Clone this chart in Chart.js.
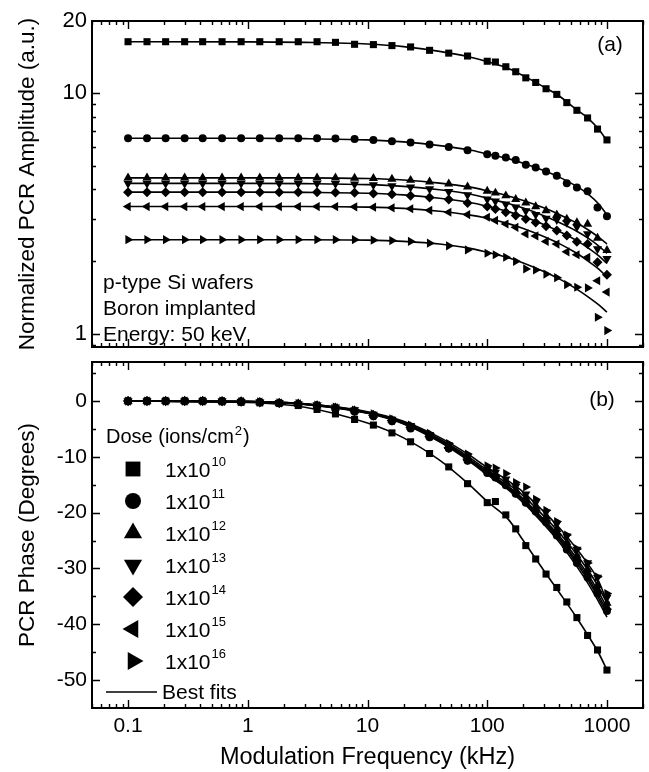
<!DOCTYPE html>
<html>
<head>
<meta charset="utf-8">
<title>PCR amplitude and phase vs modulation frequency</title>
<script src="https://cdn.jsdelivr.net/npm/chart.js@4.4.0/dist/chart.umd.min.js"></script>
<style>
  body { margin: 0; background: #fff; }
  #wrap { position: relative; width: 649px; height: 772px; }
  #wrap canvas { position: absolute; left: 0; top: 0; }
</style>
</head>
<body>
<div id="wrap">
  <canvas id="ampChart" width="649" height="772"></canvas>
  <canvas id="phaseChart" width="649" height="772"></canvas>
</div>
<script>
// measured modulation frequencies (kHz)
const freqKHz = [0.1, 0.144, 0.206, 0.297, 0.42, 0.61, 0.88, 1.26, 1.83, 2.64, 3.79, 5.4, 7.8, 11.2, 16, 22.9, 33, 47.7, 68.5,
  100, 117, 143, 173, 210, 254, 310, 381, 462, 561, 689, 834, 1000];
// frequencies where the best-fit curves are tabulated (kHz)
const fitFreqKHz = [0.1, 1, 3, 10, 20, 40, 70, 100, 150, 200, 300, 400, 550, 700, 850, 1000];

// implant dose exponents, 1x10^n ions/cm2
const doseExp = ['10', '11', '12', '13', '14', '15', '16'];

// tick labels
const freqTicks = [0.1, 1, 10, 100, 1000];
const ampTicks = [1, 10, 20];
const phaseTicks = [0, -10, -20, -30, -40, -50];

// normalized PCR amplitude (a.u.)
const amp1e10 = [16.4, 16.4, 16.4, 16.4, 16.4, 16.4, 16.4, 16.4, 16.4, 16.4, 16.4, 16.3, 16.0, 15.95, 15.8, 15.6, 15.1, 14.7, 14.3,
  13.6, 13.5, 12.9, 12.3, 11.6, 11.1, 10.45, 9.9, 9.15, 8.5, 7.9, 7.1, 6.4];
const amp1e11 = [6.5, 6.5, 6.5, 6.5, 6.5, 6.5, 6.5, 6.5, 6.5, 6.5, 6.5, 6.48, 6.45, 6.4, 6.32, 6.24, 6.12, 5.98, 5.8,
  5.58, 5.5, 5.41, 5.28, 5.04, 4.91, 4.73, 4.54, 4.23, 4.06, 3.91, 3.35, 3.08];
const amp1e12 = [4.45, 4.45, 4.45, 4.45, 4.45, 4.45, 4.45, 4.45, 4.45, 4.45, 4.45, 4.45, 4.44, 4.43, 4.4, 4.35, 4.28, 4.2, 4.08,
  3.92, 3.85, 3.75, 3.62, 3.5, 3.38, 3.25, 3.12, 3.0, 2.9, 2.86, 2.5, 2.22];
const amp1e13 = [4.22, 4.22, 4.22, 4.22, 4.22, 4.22, 4.22, 4.22, 4.22, 4.22, 4.22, 4.21, 4.19, 4.16, 4.12, 4.07, 4.0, 3.9, 3.78,
  3.63, 3.56, 3.46, 3.36, 3.24, 3.13, 3.02, 2.98, 2.9, 2.78, 2.6, 2.25, 2.05];
const amp1e14 = [3.88, 3.88, 3.88, 3.88, 3.88, 3.88, 3.88, 3.88, 3.88, 3.88, 3.88, 3.87, 3.86, 3.83, 3.8, 3.75, 3.69, 3.62, 3.5,
  3.38, 3.3, 3.2, 3.1, 3.0, 2.9, 2.8, 2.69, 2.56, 2.41, 2.36, 1.98, 1.76];
const amp1e15 = [3.38, 3.38, 3.38, 3.38, 3.38, 3.38, 3.38, 3.38, 3.38, 3.38, 3.38, 3.38, 3.37, 3.36, 3.34, 3.31, 3.26, 3.2, 3.13,
  3.05, 2.96, 2.86, 2.77, 2.6, 2.55, 2.42, 2.36, 2.19, 2.13, 2.08, 1.66, 1.49];
const amp1e16 = [2.46, 2.46, 2.46, 2.46, 2.46, 2.46, 2.46, 2.46, 2.46, 2.46, 2.46, 2.46, 2.46, 2.45, 2.44, 2.42, 2.38, 2.32, 2.23,
  2.16, 2.13, 2.08, 2.0, 1.86, 1.84, 1.77, 1.71, 1.6, 1.56, 1.55, 1.17, 1.03];

// amplitude best fits, at fitFreqKHz
const ampFit1e10 = [16.4, 16.38, 16.3, 16.05, 15.65, 14.95, 14.2, 13.55, 12.7, 11.85, 10.6, 9.75, 8.6, 7.85, 7.1, 6.35];
const ampFit1e11 = [6.5, 6.5, 6.48, 6.4, 6.28, 6.06, 5.82, 5.6, 5.35, 5.12, 4.76, 4.48, 4.12, 3.8, 3.47, 3.12];
const ampFit1e12 = [4.45, 4.45, 4.45, 4.42, 4.36, 4.23, 4.08, 3.93, 3.74, 3.58, 3.33, 3.13, 2.9, 2.7, 2.52, 2.36];
const ampFit1e13 = [4.22, 4.22, 4.21, 4.17, 4.1, 3.97, 3.82, 3.66, 3.48, 3.33, 3.09, 2.9, 2.68, 2.49, 2.32, 2.16];
const ampFit1e14 = [3.88, 3.88, 3.87, 3.84, 3.78, 3.66, 3.52, 3.39, 3.22, 3.07, 2.84, 2.66, 2.45, 2.27, 2.11, 1.96];
const ampFit1e15 = [3.38, 3.38, 3.38, 3.36, 3.32, 3.23, 3.12, 3.02, 2.87, 2.74, 2.53, 2.37, 2.17, 2.0, 1.86, 1.72];
const ampFit1e16 = [2.46, 2.46, 2.46, 2.45, 2.42, 2.36, 2.27, 2.18, 2.07, 1.97, 1.81, 1.69, 1.54, 1.42, 1.32, 1.23];

// PCR phase (degrees)
const ph1e10 = [0, 0, 0, 0, 0, -0.1, -0.2, -0.3, -0.4, -0.8, -1.5, -2.3, -3.3, -4.3, -5.7, -7.3, -9.4, -11.8, -14.8,
  -18.2, -18.0, -20.4, -22.9, -25.9, -28.3, -31.0, -33.4, -36.0, -38.8, -42.0, -44.6, -48.2];
const ph1e11 = [0, 0, 0, 0, 0, 0, -0.1, -0.2, -0.4, -0.6, -0.9, -1.3, -1.9, -2.7, -3.6, -4.9, -6.5, -8.5, -10.7,
  -12.9, -13.7, -15.1, -16.6, -18.2, -19.8, -21.7, -24.1, -26.6, -29.0, -31.6, -34.5, -37.6];
const ph1e12 = [0, 0, 0, 0, 0, -0.05, -0.1, -0.2, -0.35, -0.5, -0.8, -1.2, -1.7, -2.5, -3.4, -4.6, -6.2, -8.1, -10.2,
  -12.4, -13.1, -14.5, -15.9, -17.4, -18.9, -20.7, -23.0, -25.3, -27.7, -30.2, -33.0, -36.2];
const ph1e13 = [0, 0, 0, 0, 0, 0, -0.1, -0.2, -0.3, -0.5, -0.7, -1.1, -1.6, -2.4, -3.3, -4.4, -6.0, -7.9, -10.0,
  -12.2, -12.8, -14.0, -15.3, -16.7, -18.2, -19.9, -22.0, -24.2, -26.6, -29.0, -31.6, -35.2];
const ph1e14 = [0, 0, 0, 0, 0, -0.05, -0.1, -0.2, -0.35, -0.5, -0.8, -1.2, -1.8, -2.6, -3.5, -4.7, -6.3, -8.4, -10.5,
  -12.7, -13.5, -14.9, -16.4, -18.0, -19.6, -21.5, -23.8, -26.2, -28.6, -31.3, -34.2, -37.3];
const ph1e15 = [0, 0, 0, 0, 0, -0.05, -0.1, -0.2, -0.35, -0.5, -0.8, -1.2, -1.8, -2.6, -3.5, -4.7, -6.3, -8.3, -10.4,
  -12.6, -13.3, -14.7, -16.2, -17.7, -19.3, -21.1, -23.5, -25.8, -28.2, -30.8, -33.6, -36.7];
const ph1e16 = [0, 0, 0, 0, 0, 0, -0.1, -0.15, -0.3, -0.45, -0.7, -1.1, -1.6, -2.3, -3.2, -4.3, -5.8, -7.6, -9.5,
  -11.6, -12.0, -13.0, -14.6, -15.4, -17.6, -19.6, -21.6, -24.0, -26.5, -29.0, -31.5, -34.5];

// phase best fits, at fitFreqKHz
const phFit1e10 = [0, -0.25, -1.1, -3.95, -6.6, -10.6, -14.9, -18.0, -21.2, -25.0, -30.5, -34.3, -38.6, -42.1, -45.1, -48.2];
const phFit1e11 = [0, -0.1, -0.6, -2.2, -4.1, -7.3, -10.7, -13.2, -15.9, -18.2, -22.2, -25.3, -29.4, -32.8, -35.9, -38.7];
const phFit1e12 = [0, -0.1, -0.55, -2.1, -3.9, -7.0, -10.3, -12.7, -15.3, -17.5, -21.3, -24.2, -28.0, -31.2, -34.2, -37.0];
const phFit1e13 = [0, -0.1, -0.5, -2.0, -3.8, -6.8, -10.0, -12.4, -14.9, -17.0, -20.7, -23.6, -27.3, -30.4, -33.3, -36.2];
const phFit1e14 = [0, -0.1, -0.6, -2.15, -4.0, -7.2, -10.5, -13.0, -15.7, -17.9, -21.9, -24.9, -28.9, -32.2, -35.3, -38.2];
const phFit1e15 = [0, -0.1, -0.55, -2.1, -3.95, -7.1, -10.4, -12.85, -15.5, -17.7, -21.6, -24.6, -28.5, -31.7, -34.8, -37.6];
const phFit1e16 = [0, -0.1, -0.5, -1.9, -3.6, -6.5, -9.6, -11.9, -14.3, -16.3, -19.9, -22.7, -26.3, -29.3, -32.2, -36.0];

const ampSeries = [amp1e10, amp1e11, amp1e12, amp1e13, amp1e14, amp1e15, amp1e16];
const ampFits = [ampFit1e10, ampFit1e11, ampFit1e12, ampFit1e13, ampFit1e14, ampFit1e15, ampFit1e16];
const phSeries = [ph1e10, ph1e11, ph1e12, ph1e13, ph1e14, ph1e15, ph1e16];
const phFits = [phFit1e10, phFit1e11, phFit1e12, phFit1e13, phFit1e14, phFit1e15, phFit1e16];

// one symbol per dose: square, circle, up/down/left/right triangles, diamond
const markers = [
  { pointStyle: 'rect', rotation: 0, r: 5, legendR: 10.5 },
  { pointStyle: 'circle', rotation: 0, r: 4, legendR: 8 },
  { pointStyle: 'triangle', rotation: 0, r: 5.3, legendR: 10.5 },
  { pointStyle: 'triangle', rotation: 180, r: 5.3, legendR: 10.5 },
  { pointStyle: 'rectRot', rotation: 0, r: 5, legendR: 10 },
  { pointStyle: 'triangle', rotation: 270, r: 5.3, legendR: 10.5 },
  { pointStyle: 'triangle', rotation: 90, r: 5.3, legendR: 10.5 }
];

const FAMILY = '"Liberation Sans", Arial, Helvetica, sans-serif';
const font = size => size + 'px ' + FAMILY;
Chart.defaults.font.family = FAMILY;
Chart.defaults.color = '#000';

function pts(xs, ys) {
  return xs.map((x, i) => ({ x: x, y: ys[i] }));
}

function buildDatasets(series, fits) {
  const out = [];
  series.forEach((d, i) => out.push({
    data: pts(freqKHz, d),
    showLine: false,
    pointStyle: markers[i].pointStyle,
    pointRotation: markers[i].rotation,
    pointRadius: markers[i].r,
    pointBackgroundColor: '#000',
    pointBorderWidth: 0
  }));
  fits.forEach(f => out.push({
    data: pts(fitFreqKHz, f),
    showLine: true,
    borderColor: '#000',
    borderWidth: 1.6,
    pointRadius: 0,
    cubicInterpolationMode: 'monotone'
  }));
  return out;
}

function decadeMinors(lo, hi, majors) {
  const v = [];
  for (let e = -3; e <= 4; e++) {
    for (let m = 2; m <= 9; m++) {
      const t = m * Math.pow(10, e);
      if (t >= lo && t <= hi && majors.indexOf(t) < 0) v.push(t);
    }
  }
  return v;
}

const xMinor = decadeMinors(0.05, 2000, freqTicks);
const ampMinor = decadeMinors(0.88, 20, ampTicks).concat([0.9]);
const phaseMinor = [5, -5, -15, -25, -35, -45];

// box frame with inward ticks on all four sides
function frameWithTicks(xMaj, xMin, yMaj, yMin) {
  return {
    id: 'frameWithTicks',
    afterDraw(chart) {
      const { ctx, chartArea: a } = chart;
      const xs = chart.scales.x, ys = chart.scales.y;
      ctx.save();
      ctx.strokeStyle = '#000';
      ctx.lineWidth = 1.4;
      ctx.beginPath();
      const xt = (v, len) => {
        const p = Math.round(xs.getPixelForValue(v)) + 0.5;
        ctx.moveTo(p, a.bottom); ctx.lineTo(p, a.bottom - len);
        ctx.moveTo(p, a.top); ctx.lineTo(p, a.top + len);
      };
      const yt = (v, len) => {
        const p = Math.round(ys.getPixelForValue(v)) + 0.5;
        ctx.moveTo(a.left, p); ctx.lineTo(a.left + len, p);
        ctx.moveTo(a.right, p); ctx.lineTo(a.right - len, p);
      };
      xMaj.forEach(v => xt(v, 8));
      xMin.forEach(v => xt(v, 4));
      yMaj.forEach(v => yt(v, 8));
      yMin.forEach(v => yt(v, 4));
      ctx.stroke();
      ctx.lineWidth = 2;
      ctx.strokeRect(a.left, a.top, a.right - a.left, a.bottom - a.top);
      ctx.restore();
    }
  };
}

const sampleNotes = {
  id: 'sampleNotes',
  afterDraw(chart) {
    const ctx = chart.ctx;
    ctx.save();
    ctx.fillStyle = '#000';
    ctx.font = font(21);
    ctx.textAlign = 'left';
    ctx.textBaseline = 'alphabetic';
    ctx.fillText('p-type Si wafers', 103, 289);
    ctx.fillText('Boron implanted', 103, 315);
    ctx.fillText('Energy: 50 keV', 103, 341);
    ctx.textAlign = 'center';
    ctx.textBaseline = 'middle';
    ctx.fillText('(a)', 610, 45);
    ctx.restore();
  }
};

const doseLegend = {
  id: 'doseLegend',
  afterDraw(chart) {
    const ctx = chart.ctx;
    ctx.save();
    ctx.fillStyle = '#000';
    ctx.strokeStyle = '#000';
    ctx.textAlign = 'left';
    ctx.textBaseline = 'alphabetic';

    ctx.font = font(20);
    const head = 'Dose (ions/cm';
    ctx.fillText(head, 106, 443);
    const hw = ctx.measureText(head).width;
    ctx.font = font(13);
    ctx.fillText('2', 106 + hw + 1, 435);
    const sw = ctx.measureText('2').width;
    ctx.font = font(20);
    ctx.fillText(')', 106 + hw + sw + 2, 443);

    doseExp.forEach((e, i) => {
      const cy = 469 + 32 * i;
      const m = markers[i];
      Chart.helpers.drawPoint(ctx, { pointStyle: m.pointStyle, rotation: m.rotation, radius: m.legendR, borderWidth: 0 }, 133, cy);
      ctx.font = font(21);
      ctx.fillText('1x10', 165, cy + 8);
      const tw = ctx.measureText('1x10').width;
      ctx.font = font(13);
      ctx.fillText(e, 165 + tw + 1, cy - 3);
    });

    ctx.lineWidth = 1.6;
    ctx.beginPath();
    ctx.moveTo(106, 692);
    ctx.lineTo(157, 692);
    ctx.stroke();
    ctx.font = font(21);
    ctx.fillText('Best fits', 162, 699);

    ctx.textAlign = 'center';
    ctx.textBaseline = 'middle';
    ctx.fillText('(b)', 602, 400);
    ctx.restore();
  }
};

// (a) amplitude, log-log
new Chart(document.getElementById('ampChart'), {
  type: 'scatter',
  data: { datasets: buildDatasets(ampSeries, ampFits) },
  options: {
    responsive: false,
    animation: false,
    events: [],
    layout: { padding: { top: 21, right: 6, bottom: 425, left: 0 } },
    plugins: { legend: { display: false }, tooltip: { enabled: false } },
    scales: {
      x: { type: 'logarithmic', min: 0.05, max: 2000, display: false },
      y: {
        type: 'logarithmic',
        min: 0.88,
        max: 20,
        grid: { display: false, drawTicks: false },
        border: { display: false },
        afterBuildTicks: s => { s.ticks = ampTicks.map(v => ({ value: v })); },
        afterFit: s => { s.width = 92; },
        ticks: { color: '#000', font: { size: 22 }, padding: 5, autoSkip: false, callback: v => String(v) },
        title: {
          display: true,
          text: 'Normalized PCR Amplitude (a.u.)',
          color: '#000',
          font: { size: 22.5 },
          padding: { top: 14, bottom: 0 }
        }
      }
    }
  },
  plugins: [frameWithTicks(freqTicks, xMinor, [1, 10], ampMinor), sampleNotes]
});

// (b) phase, semi-log
new Chart(document.getElementById('phaseChart'), {
  type: 'scatter',
  data: { datasets: buildDatasets(phSeries, phFits) },
  options: {
    responsive: false,
    animation: false,
    events: [],
    layout: { padding: { top: 362, right: 6, bottom: 0, left: 0 } },
    plugins: { legend: { display: false }, tooltip: { enabled: false } },
    scales: {
      x: {
        type: 'logarithmic',
        min: 0.05,
        max: 2000,
        grid: { display: false, drawTicks: false },
        border: { display: false },
        afterBuildTicks: s => { s.ticks = freqTicks.map(v => ({ value: v })); },
        afterFit: s => { s.height = 64; },
        ticks: { color: '#000', font: { size: 21 }, padding: 6, maxRotation: 0, autoSkip: false, callback: v => String(v) },
        title: {
          display: true,
          text: 'Modulation Frequency (kHz)',
          color: '#000',
          font: { size: 23.5 },
          padding: { top: 0, bottom: 0 }
        }
      },
      y: {
        type: 'linear',
        min: -55,
        max: 7,
        grid: { display: false, drawTicks: false },
        border: { display: false },
        afterBuildTicks: s => { s.ticks = phaseTicks.map(v => ({ value: v })); },
        afterFit: s => { s.width = 92; },
        ticks: { color: '#000', font: { size: 21 }, padding: 5, autoSkip: false, callback: v => String(v) },
        title: {
          display: true,
          text: 'PCR Phase (Degrees)',
          color: '#000',
          font: { size: 22.5 },
          padding: { top: 14, bottom: 0 }
        }
      }
    }
  },
  plugins: [frameWithTicks(freqTicks, xMinor, phaseTicks, phaseMinor), doseLegend]
});
</script>
</body>
</html>
